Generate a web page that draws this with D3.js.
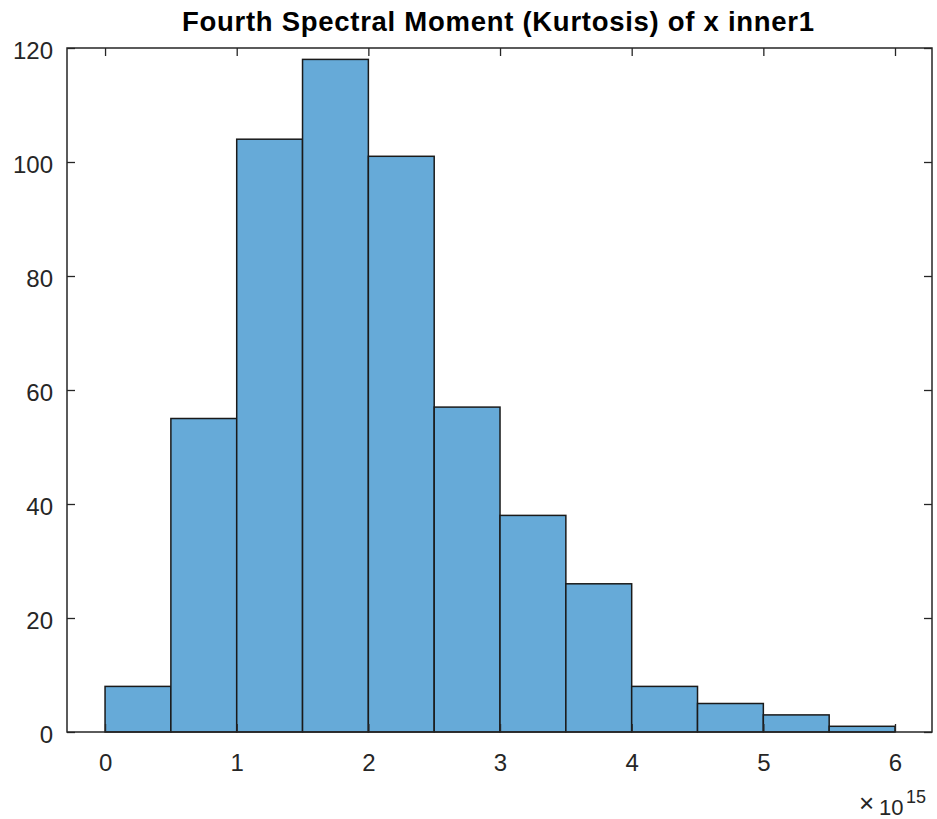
<!DOCTYPE html>
<html>
<head>
<meta charset="utf-8">
<script src="https://cdn.jsdelivr.net/npm/d3@7/dist/d3.min.js"></script>
<style>
  html, body { margin: 0; padding: 0; background: #ffffff; }
  svg { display: block; font-family: "Liberation Sans", Arial, Helvetica, sans-serif; }
</style>
</head>
<body>
<svg id="chart" width="937" height="819"></svg>
<script>
// Histogram bins (edges in units of 1e15) and counts
const binEdges = [0, 0.5, 1, 1.5, 2, 2.5, 3, 3.5, 4, 4.5, 5, 5.5, 6];
const counts = [8, 55, 104, 118, 101, 57, 38, 26, 8, 5, 3, 1];
const xTicks = [0, 1, 2, 3, 4, 5, 6];
const yTicks = [0, 20, 40, 60, 80, 100, 120];
const titleText = "Fourth Spectral Moment (Kurtosis) of x inner1";

const bins = counts.map((c, i) => ({ x0: binEdges[i], x1: binEdges[i + 1], count: c }));

const svg = d3.select("#chart");
const plot = { left: 67, right: 932, top: 48, bottom: 732 };
const axisColor = "#262626";

const x = d3.scaleLinear().domain([-0.289, 6.281]).range([plot.left, plot.right]);
const y = d3.scaleLinear().domain([0, 120]).range([plot.bottom, plot.top]);

// bars
svg.append("g")
  .selectAll("rect")
  .data(bins)
  .join("rect")
  .attr("x", d => x(d.x0))
  .attr("y", d => y(d.count))
  .attr("width", d => x(d.x1) - x(d.x0))
  .attr("height", d => y(0) - y(d.count))
  .attr("fill", "#66aad8")
  .attr("stroke", "#1a1a1a")
  .attr("stroke-width", 1.5);

const tickLen = 8;
const fontSize = 24;

// bottom axis, ticks pointing inward
const xAxis = d3.axisBottom(x).tickValues(xTicks).tickSize(-tickLen).tickPadding(22).tickFormat(d3.format("d"));
const gx = svg.append("g").attr("transform", `translate(0,${plot.bottom})`).call(xAxis);
// top axis, ticks only
const gxt = svg.append("g").attr("transform", `translate(0,${plot.top})`)
  .call(d3.axisTop(x).tickValues(xTicks).tickSize(-tickLen).tickFormat(""));
// left axis
const yAxis = d3.axisLeft(y).tickValues(yTicks).tickSize(-tickLen).tickPadding(14).tickFormat(d3.format("d"));
const gy = svg.append("g").attr("transform", `translate(${plot.left},0)`).call(yAxis);
// right axis, ticks only
const gyr = svg.append("g").attr("transform", `translate(${plot.right},0)`)
  .call(d3.axisRight(y).tickValues(yTicks).tickSize(-tickLen).tickFormat(""));

[gx, gxt, gy, gyr].forEach(g => {
  g.select(".domain").remove();
  g.selectAll(".tick line").attr("stroke", axisColor).attr("stroke-width", 1.3);
  g.selectAll(".tick text")
    .attr("fill", axisColor)
    .attr("font-size", fontSize)
    .attr("font-family", "'Liberation Sans', Arial, sans-serif");
});
gy.selectAll(".tick text").attr("dy", "0.42em");

// box around the plotting area
svg.append("rect")
  .attr("x", plot.left).attr("y", plot.top)
  .attr("width", plot.right - plot.left).attr("height", plot.bottom - plot.top)
  .attr("fill", "none").attr("stroke", axisColor).attr("stroke-width", 1.5);

// exponent label for the x axis
const expoG = svg.append("g").attr("fill", axisColor);
expoG.append("text").attr("x", 859).attr("y", 812).attr("font-size", 26).text("\u00d7");
expoG.append("text").attr("x", 879).attr("y", 814.5).attr("font-size", 22).text("10");
expoG.append("text").attr("x", 906).attr("y", 803).attr("font-size", 18).text("15");

// title
svg.append("text")
  .attr("x", 182).attr("y", 31)
  .attr("fill", "#000000")
  .attr("font-size", 27.5)
  .attr("font-weight", "bold")
  .attr("textLength", 632)
  .attr("lengthAdjust", "spacing")
  .text(titleText);
</script>
</body>
</html>
